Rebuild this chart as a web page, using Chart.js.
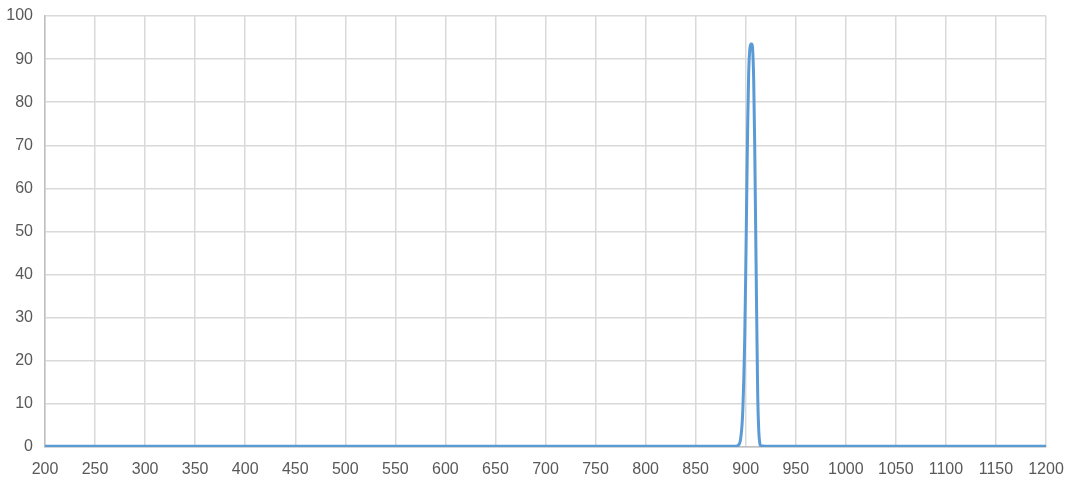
<!DOCTYPE html>
<html>
<head>
<meta charset="utf-8">
<script src="https://cdn.jsdelivr.net/npm/chart.js@4/dist/chart.umd.min.js"></script>
<style>
  html, body { margin: 0; padding: 0; background: #fff; }
  #wrap { width: 1071px; height: 480px; }
</style>
</head>
<body>
<div id="wrap"><canvas id="spectrum"></canvas></div>
<script>
// wavelength (nm) and transmission (%)
const wavelength = [200, 250, 300, 350, 400, 450, 500, 550, 600, 650, 700, 750, 800, 850, 880, 890,
  893, 895, 897, 899, 900, 901, 902, 903, 904, 905, 906, 907, 908, 909, 910, 911, 912, 913, 914, 915,
  920, 950, 1000, 1050, 1100, 1150, 1200];
const transmission = [0.2, 0.2, 0.2, 0.2, 0.2, 0.2, 0.2, 0.2, 0.2, 0.2, 0.2, 0.2, 0.2, 0.2, 0.2, 0.2,
  0.5, 2, 8, 25, 40, 58, 75, 87, 92, 93.5, 93.5, 92, 85, 70, 50, 30, 12, 4, 1, 0.3,
  0.2, 0.2, 0.2, 0.2, 0.2, 0.2, 0.2];
const xTicks = [200, 250, 300, 350, 400, 450, 500, 550, 600, 650, 700, 750, 800, 850, 900, 950, 1000, 1050, 1100, 1150, 1200];

const points = wavelength.map(function (w, i) { return { x: w, y: transmission[i] }; });
const tickFont = { family: "'Liberation Sans', Arial, sans-serif", size: 16 };

new Chart(document.getElementById('spectrum').getContext('2d'), {
  type: 'line',
  data: {
    datasets: [{
      data: points,
      borderColor: '#5b9bd5',
      borderWidth: 3,
      pointRadius: 0,
      cubicInterpolationMode: 'monotone',
      fill: false
    }]
  },
  options: {
    responsive: true,
    maintainAspectRatio: false,
    animation: false,
    layout: { padding: { top: 16, right: 25, left: 0, bottom: 0 } },
    plugins: { legend: { display: false }, tooltip: { enabled: false } },
    scales: {
      x: {
        type: 'linear',
        min: 200,
        max: 1200,
        afterBuildTicks: function (axis) {
          axis.ticks = xTicks.map(function (v) { return { value: v }; });
        },
        afterFit: function (axis) {
          axis.height = 33;
          axis.paddingLeft = 0;
          axis.paddingRight = 0;
        },
        grid: { color: '#d9d9d9', lineWidth: 1.5, drawTicks: false },
        border: { color: '#bfbfbf', width: 1.5 },
        ticks: {
          color: '#595959', font: tickFont, padding: 13, maxRotation: 0, autoSkip: false,
          callback: function (v) { return String(v); }
        }
      },
      y: {
        min: 0,
        max: 100,
        afterFit: function (axis) {
          axis.width = 45;
          axis.paddingTop = 0;
          axis.paddingBottom = 0;
        },
        grid: { color: '#d9d9d9', lineWidth: 1.5, drawTicks: false },
        border: { color: '#bfbfbf', width: 1.5 },
        ticks: { stepSize: 10, color: '#595959', font: tickFont, padding: 12 }
      }
    }
  }
});
</script>
</body>
</html>
